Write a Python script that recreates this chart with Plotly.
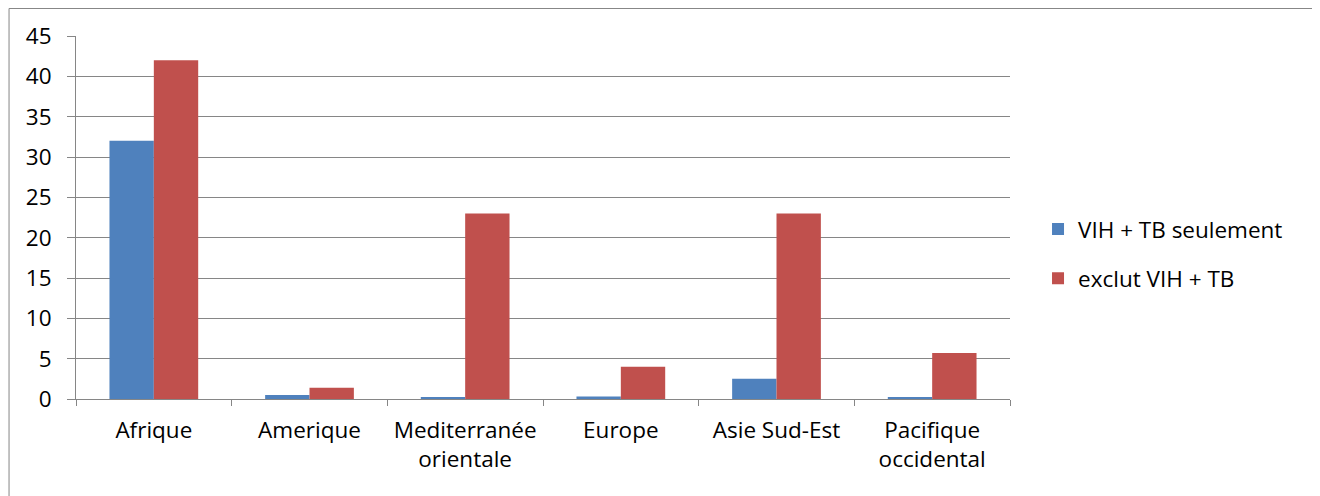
import plotly.graph_objects as go

categories = ["Afrique", "Amerique", "Mediterranée<br>orientale", "Europe", "Asie Sud-Est", "Pacifique<br>occidental"]
vih_tb_seulement = [32, 0.5, 0.2, 0.3, 2.5, 0.2]
exclut_vih_tb = [42, 1.4, 23, 4.0, 23, 5.7]
series_names = ["VIH + TB seulement", "exclut VIH + TB"]
y_ticks = [0, 5, 10, 15, 20, 25, 30, 35, 40, 45]

FONT = "Open Sans, Lato, sans-serif"
GRAY = "#868686"
FS = 22.5

fig = go.Figure()
fig.add_trace(go.Bar(x=categories, y=vih_tb_seulement, name=series_names[0],
                     marker=dict(color="#4f81bd", line=dict(width=0)), legendgroup="a"))
fig.add_trace(go.Bar(x=categories, y=exclut_vih_tb, name=series_names[1],
                     marker=dict(color="#c0504d", line=dict(width=0)), legendgroup="b"))

fig.update_layout(
    width=1320, height=496,
    margin=dict(l=68, r=318, t=28, b=105),
    paper_bgcolor="white", plot_bgcolor="white",
    barmode="group", bargap=0.43, bargroupgap=0,
    font=dict(family=FONT, size=FS, color="#000000"),
    legend=dict(x=1.03, y=0.40, xanchor="left", yanchor="middle",
                font=dict(size=FS), tracegroupgap=17, itemwidth=30),
    showlegend=True,
    xaxis=dict(showline=True, linecolor=GRAY, linewidth=1,
               ticks="outside", ticklen=6, tickcolor=GRAY,
               tickson="boundaries", showgrid=False, tickfont=dict(size=FS),
               ticklabelstandoff=11),
    yaxis=dict(range=[0, 45], tickvals=y_ticks, showline=True, linecolor=GRAY,
               linewidth=1, ticks="outside", ticklen=8, tickcolor=GRAY,
               showgrid=True, gridcolor=GRAY, gridwidth=1, zeroline=False,
               tickfont=dict(size=FS), ticklabelstandoff=11),
    shapes=[dict(type="rect", xref="paper", yref="paper",
                 x0=-0.0717, x1=1.3244, y0=-0.3, y1=1.0758,
                 line=dict(color=GRAY, width=1), fillcolor="rgba(0,0,0,0)",
                 layer="below")],
)

fig.write_html("out.html")
